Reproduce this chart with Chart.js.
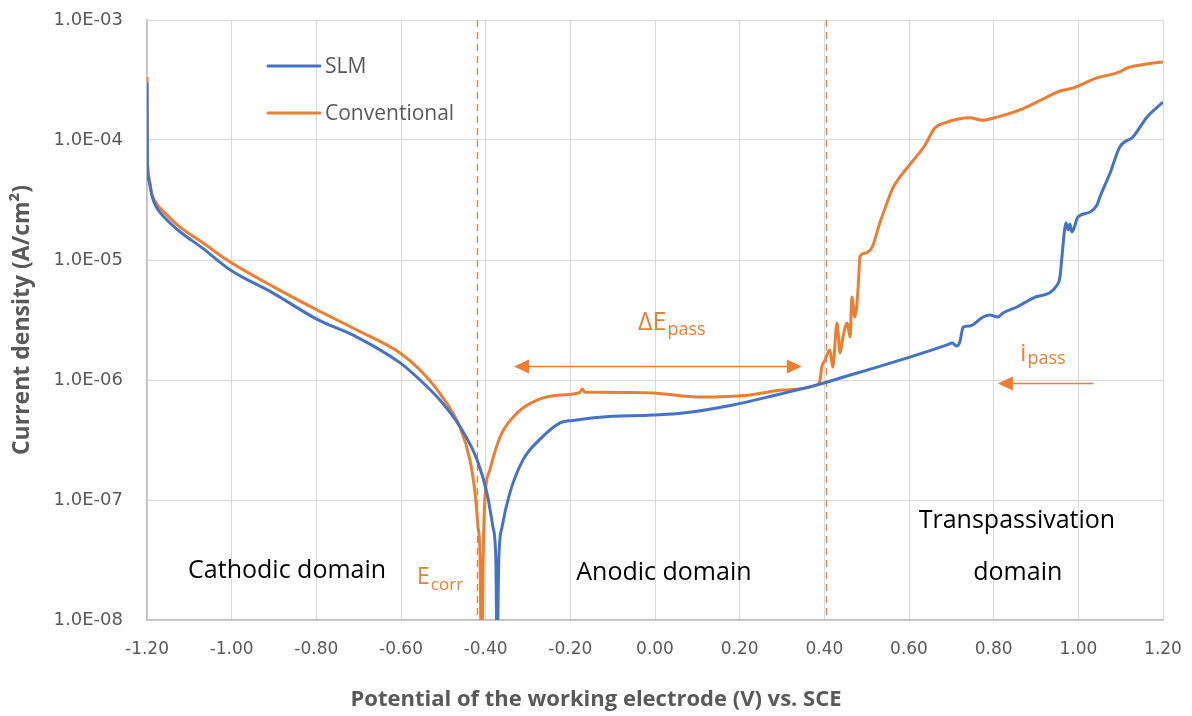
<!DOCTYPE html>
<html>
<head>
<meta charset="utf-8">
<script src="https://cdn.jsdelivr.net/npm/chart.js@4.4.1/dist/chart.umd.min.js"></script>
<style>
  html, body { margin: 0; padding: 0; background: #ffffff; }
  #wrap { width: 1192px; height: 716px; position: relative; }
</style>
</head>
<body>
<div id="wrap"><canvas id="chart" width="1192" height="716"></canvas></div>
<script>
// Potentiodynamic polarisation curves: potential (V vs. SCE) and current density (A/cm²)
const slmPotential = [
  -1.2000, -1.1995, -1.1990, -1.1950, -1.1880, -1.1790, -1.1580, -1.1220, -1.0680, -1.004,
  -0.902, -0.798, -0.704, -0.602, -0.555, -0.508, -0.461, -0.420, -0.397, -0.383,
  -0.376, -0.373, -0.369, -0.361, -0.343, -0.312, -0.272, -0.224, -0.194, -0.130,
  -0.005,  0.066,  0.184,  0.265,  0.383,  0.461,  0.501,  0.602,  0.690,  0.702,
   0.713,  0.720,  0.728,  0.744,  0.775,  0.791,  0.810,  0.822,  0.855,  0.893,
   0.950,  0.957,  0.961,  0.971,  0.976,  0.980,  0.985,  0.999,  1.028,  1.044,
   1.051,  1.075,  1.098,  1.129,  1.162,  1.200
];
const slmCurrent = [
  3.0e-4, 1.1e-4, 6.5e-5, 4.5e-5, 3.4e-5, 2.8e-5, 2.25e-5, 1.72e-5, 1.25e-5, 8.3e-6,
  5.3e-6, 3.2e-6, 2.28e-6, 1.39e-6, 1.0e-6, 6.8e-7, 4.1e-7, 2.15e-7, 1.14e-7, 6.0e-8,
  3.2e-8, 5.0e-9, 3.2e-8, 6.0e-8, 1.14e-7, 2.15e-7, 3.2e-7, 4.4e-7, 4.6e-7, 4.9e-7,
  5.1e-7, 5.3e-7, 6.2e-7, 7.2e-7, 9.1e-7, 1.10e-6, 1.21e-6, 1.55e-6, 1.96e-6, 2.03e-6,
  1.92e-6, 2.07e-6, 2.76e-6, 2.82e-6, 3.35e-6, 3.48e-6, 3.35e-6, 3.62e-6, 4.06e-6, 4.82e-6,
  6.19e-6, 7.36e-6, 1.04e-5, 2.03e-5, 1.78e-5, 2.0e-5, 1.71e-5, 2.28e-5, 2.51e-5, 2.87e-5,
  3.35e-5, 5.31e-5, 8.75e-5, 1.06e-4, 1.55e-4, 2.07e-4
];
const conventionalPotential = [
  -1.2000, -1.1995, -1.1990, -1.1953, -1.1890, -1.1790, -1.1580, -1.1220, -1.0680, -1.011,
  -0.902, -0.798, -0.704, -0.602, -0.555, -0.508, -0.461, -0.437, -0.425, -0.418,
  -0.413, -0.410, -0.406, -0.402, -0.390, -0.366, -0.326, -0.279, -0.224, -0.177,
  -0.172, -0.165, -0.130, -0.005,  0.106,  0.224,  0.302,  0.383,  0.390,  0.394,
   0.402,  0.413,  0.420,  0.430,  0.437,  0.444,  0.454,  0.461,  0.465,  0.472,
   0.480,  0.484,  0.496,  0.513,  0.531,  0.548,  0.562,  0.579,  0.609,  0.638,
   0.661,  0.685,  0.744,  0.772,  0.808,  0.862,  0.902,  0.957,  0.987,
   1.044,  1.098,  1.115,  1.162,  1.200
];
const conventionalCurrent = [
  3.35e-4, 1.2e-4, 7.0e-5, 4.9e-5, 3.6e-5, 3.0e-5, 2.47e-5, 1.88e-5, 1.39e-5, 1.0e-5,
  6.0e-6, 3.83e-6, 2.61e-6, 1.68e-6, 1.21e-6, 7.7e-7, 4.07e-7, 2.15e-7, 1.14e-7, 6.0e-8,
  3.2e-8, 3.0e-9, 3.2e-8, 1.0e-7, 1.78e-7, 3.35e-7, 5.3e-7, 6.8e-7, 7.5e-7, 7.9e-7,
  8.4e-7, 7.9e-7, 7.9e-7, 7.8e-7, 7.2e-7, 7.5e-7, 8.25e-7, 9.1e-7, 1.0e-6, 1.28e-6,
  1.47e-6, 1.78e-6, 1.28e-6, 2.99e-6, 1.68e-6, 2.28e-6, 2.99e-6, 2.28e-6, 4.92e-6, 3.35e-6,
  5.96e-6, 1.06e-5, 1.14e-5, 1.28e-5, 2.03e-5, 2.99e-5, 3.98e-5, 4.92e-5, 6.68e-5, 9.09e-5,
  1.26e-4, 1.39e-4, 1.53e-4, 1.46e-4, 1.55e-4, 1.78e-4, 2.07e-4, 2.56e-4, 2.71e-4,
  3.29e-4, 3.69e-4, 3.98e-4, 4.30e-4, 4.47e-4
];

// Axis ticks
const potentialTicks = [-1.2, -1.0, -0.8, -0.6, -0.4, -0.2, 0.0, 0.2, 0.4, 0.6, 0.8, 1.0, 1.2];
const currentTicks = [1e-8, 1e-7, 1e-6, 1e-5, 1e-4, 1e-3];

// Characteristic potentials and the passive current level
const eCorr = -0.42;
const eTranspassive = 0.405;
const passWindow = [-0.333, 0.347];
const passWindowLevel = 1.31e-6;
const iPassArrow = [1.036, 0.810];
const iPassLevel = 9.44e-7;

const BLUE = '#4472C4';
const ORANGE = '#ED7D31';
const GREY_TEXT = '#595959';

const toPoints = (xs, ys) => xs.map((v, i) => ({ x: v, y: ys[i] }));

function sciLabel(v) {
  const e = Math.round(Math.log10(v));
  const m = v / Math.pow(10, e);
  const sign = e < 0 ? '-' : '+';
  return m.toFixed(1) + 'E' + sign + String(Math.abs(e)).padStart(2, '0');
}

function arrowHead(ctx, tipX, y, dir, len, half) {
  ctx.beginPath();
  ctx.moveTo(tipX, y);
  ctx.lineTo(tipX - dir * len, y - half);
  ctx.lineTo(tipX - dir * len, y + half);
  ctx.closePath();
  ctx.fill();
}

function subText(ctx, main, sub, x, y, mainFont, subFont, drop) {
  ctx.font = mainFont;
  ctx.fillText(main, x, y);
  const w = ctx.measureText(main).width;
  ctx.font = subFont;
  ctx.fillText(sub, x + w + 1, y + drop);
}

const guideLines = {
  id: 'guideLines',
  beforeDatasetsDraw(chart) {
    const { ctx, chartArea: a, scales: { x } } = chart;
    ctx.save();
    ctx.strokeStyle = ORANGE;
    ctx.lineWidth = 1.3;
    ctx.setLineDash([7, 5]);
    [eCorr, eTranspassive].forEach(v => {
      const px = Math.round(x.getPixelForValue(v)) + 0.5;
      ctx.beginPath();
      ctx.moveTo(px, a.top);
      ctx.lineTo(px, a.bottom);
      ctx.stroke();
    });
    ctx.restore();
  }
};

const labels = {
  id: 'labels',
  afterDraw(chart) {
    const { ctx, chartArea: a, scales: { x, y } } = chart;
    ctx.save();
    ctx.textBaseline = 'alphabetic';

    // passive range arrow (double headed)
    ctx.strokeStyle = ORANGE;
    ctx.fillStyle = ORANGE;
    ctx.lineWidth = 1.5;
    const py = Math.round(y.getPixelForValue(passWindowLevel)) + 0.5;
    const x1 = x.getPixelForValue(passWindow[0]);
    const x2 = x.getPixelForValue(passWindow[1]);
    ctx.beginPath(); ctx.moveTo(x1 + 10, py); ctx.lineTo(x2 - 10, py); ctx.stroke();
    arrowHead(ctx, x1, py, -1, 15, 7);
    arrowHead(ctx, x2, py, 1, 15, 7);

    // passive current arrow
    const iy = Math.round(y.getPixelForValue(iPassLevel)) + 0.5;
    const ix1 = x.getPixelForValue(iPassArrow[0]);
    const ix2 = x.getPixelForValue(iPassArrow[1]);
    ctx.lineWidth = 1.5;
    ctx.beginPath(); ctx.moveTo(ix1, iy); ctx.lineTo(ix2 + 10, iy); ctx.stroke();
    arrowHead(ctx, ix2, iy, -1, 15, 7);

    // orange annotations
    ctx.textAlign = 'left';
    subText(ctx, '\u0394E', 'pass', x.getPixelForValue(-0.04), y.getPixelForValue(2.6e-6),
      '25px "Open Sans"', '18px "Open Sans"', 5);
    subText(ctx, 'E', 'corr', x.getPixelForValue(-0.562), y.getPixelForValue(2.0e-8),
      '23px "Open Sans"', '17px "Open Sans"', 6);
    subText(ctx, 'i', 'pass', x.getPixelForValue(0.863), y.getPixelForValue(1.45e-6),
      '24px "Open Sans"', '18px "Open Sans"', 3);

    // domain names
    ctx.fillStyle = '#000000';
    ctx.textAlign = 'center';
    ctx.font = '25px "Open Sans"';
    ctx.fillText('Cathodic domain', x.getPixelForValue(-0.869), y.getPixelForValue(2.24e-8));
    ctx.fillText('Anodic domain', x.getPixelForValue(0.021), y.getPixelForValue(2.15e-8));
    ctx.fillText('Transpassivation', x.getPixelForValue(0.855), y.getPixelForValue(5.84e-8));
    ctx.fillText('domain', x.getPixelForValue(0.857), y.getPixelForValue(2.15e-8));

    // legend
    const legend = [['SLM', BLUE, 66], ['Conventional', ORANGE, 113]];
    ctx.textAlign = 'left';
    ctx.textBaseline = 'middle';
    ctx.font = '21px "Open Sans"';
    ctx.lineCap = 'round';
    ctx.lineWidth = 3;
    legend.forEach(([name, col, ly]) => {
      ctx.strokeStyle = col;
      ctx.beginPath(); ctx.moveTo(268, ly); ctx.lineTo(320, ly); ctx.stroke();
      ctx.fillStyle = GREY_TEXT;
      ctx.fillText(name, 325, ly + 1);
    });

    // axis titles
    ctx.fillStyle = GREY_TEXT;
    ctx.font = 'bold 22px "Open Sans"';
    ctx.textAlign = 'center';
    ctx.textBaseline = 'middle';
    ctx.fillText('Potential of the working electrode (V) vs. SCE', 596, 700);
    ctx.save();
    ctx.translate(22, (a.top + a.bottom) / 2);
    ctx.rotate(-Math.PI / 2);
    ctx.font = 'bold 23px "Open Sans"';
    ctx.fillText('Current density (A/cm\u00B2)', 0, 0);
    ctx.restore();

    ctx.restore();
  }
};

new Chart(document.getElementById('chart'), {
  type: 'scatter',
  data: {
    datasets: [
      {
        label: 'SLM',
        data: toPoints(slmPotential, slmCurrent),
        showLine: true,
        borderColor: BLUE,
        backgroundColor: BLUE,
        borderWidth: 3,
        pointRadius: 0,
        cubicInterpolationMode: 'monotone'
      },
      {
        label: 'Conventional',
        data: toPoints(conventionalPotential, conventionalCurrent),
        showLine: true,
        borderColor: ORANGE,
        backgroundColor: ORANGE,
        borderWidth: 3,
        pointRadius: 0,
        cubicInterpolationMode: 'monotone'
      }
    ]
  },
  options: {
    responsive: false,
    animation: false,
    devicePixelRatio: 1,
    layout: { padding: { left: 0, right: 29, top: 20, bottom: 0 } },
    plugins: {
      legend: { display: false },
      tooltip: { enabled: false }
    },
    scales: {
      x: {
        type: 'linear',
        min: -1.2,
        max: 1.2,
        afterBuildTicks: s => { s.ticks = potentialTicks.map(v => ({ value: v })); },
        afterFit: s => { s.height = 96; },
        // invisible tick marks keep the labels clear of the axis
        grid: { color: '#D9D9D9', lineWidth: 1, drawTicks: true, tickLength: 16, tickColor: 'rgba(0,0,0,0)' },
        border: { color: '#BFBFBF', width: 1.5 },
        ticks: {
          padding: 3,
          color: GREY_TEXT,
          font: { family: 'DejaVu Sans', size: 17 },
          maxRotation: 0,
          callback: v => (Math.abs(v) < 1e-9 ? 0 : v).toFixed(2)
        }
      },
      y: {
        type: 'logarithmic',
        min: 1e-8,
        max: 1e-3,
        afterBuildTicks: s => { s.ticks = currentTicks.map(v => ({ value: v })); },
        afterFit: s => { s.width = 147; },
        grid: { color: '#D9D9D9', lineWidth: 1, drawTicks: true, tickLength: 21, tickColor: 'rgba(0,0,0,0)' },
        border: { color: '#BFBFBF', width: 1.5 },
        ticks: {
          padding: 3,
          color: GREY_TEXT,
          font: { family: 'DejaVu Sans', size: 18 },
          callback: v => sciLabel(v)
        }
      }
    }
  },
  plugins: [guideLines, labels]
});
</script>
</body>
</html>
